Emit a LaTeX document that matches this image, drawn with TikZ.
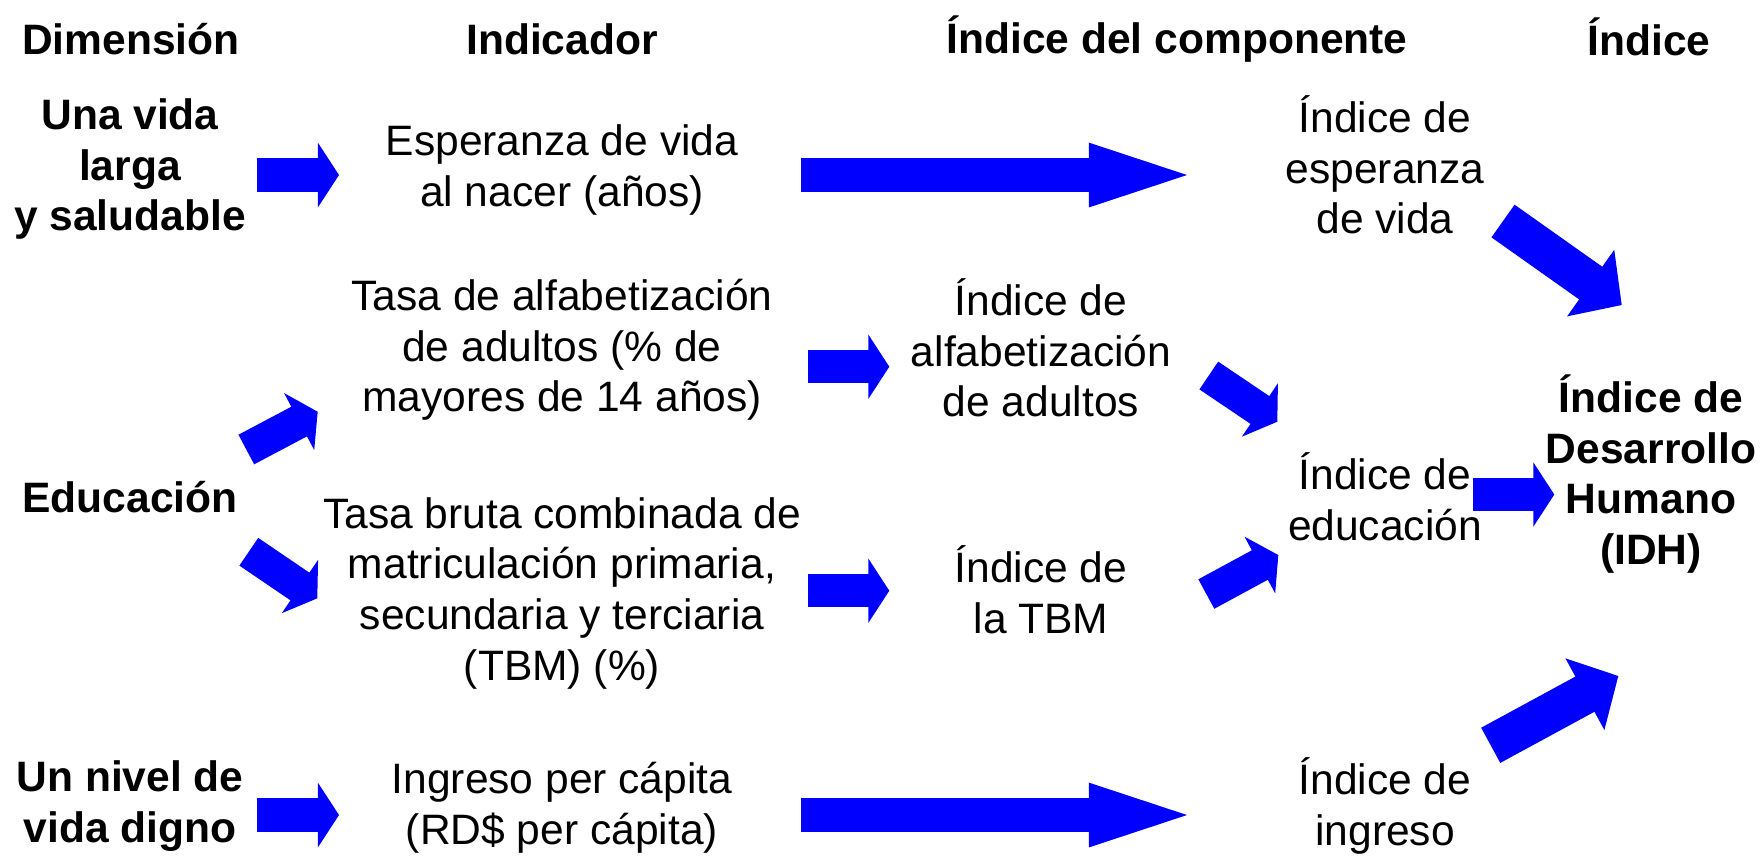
\documentclass[tikz,border=0pt]{standalone}
\usepackage{fontspec}
\setmainfont{Liberation Sans}
\usetikzlibrary{arrows.meta}

\begin{document}
\begin{tikzpicture}[x=0.01cm,y=-0.01cm,
    every node/.style={align=center,inner sep=0pt,font=\fontsize{12.1}{14.4}\selectfont},
    head/.style={font=\fontsize{12.1}{14.4}\selectfont\bfseries},
    flecha/.style={blue,line width=0.335cm,-{Triangle[length=0.21cm,width=0.64cm,line width=0.8pt]}},
    flechalarga/.style={blue,line width=0.335cm,-{Triangle[length=0.98cm,width=0.64cm,line width=0.8pt]}},
    flechagrande/.style={blue,line width=0.40cm,-{Triangle[length=0.38cm,width=0.81cm,line width=0.8pt]}}]
    \useasboundingbox (0,0) rectangle (1761,856);

    % encabezados
    \node[head] (hdim)  at (130.8,39) {Dimensión};
    \node[head] (hind)  at (562,39)   {Indicador};
    \node[head] (hcomp) at (1177,39)  {Índice del componente};
    \node[head] (hidx)  at (1649,37)  {Índice};

    % dimensiones
    \node[head] (vida)  at (130,169)   {Una vida\\larga\\y saludable};
    \node[head] (educ)  at (130,497.5) {Educación};
    \node[head] (nivel) at (130,806)   {Un nivel de\\vida digno};

    % indicadores
    \node (esper) at (562,170)   {Esperanza de vida\\al nacer (años)};
    \node (alfab) at (562,350) {Tasa de alfabetización\\de adultos (\% de\\mayores de 14 años)};
    \node (tbm)   at (562,593)   {Tasa bruta combinada de\\matriculación primaria,\\secundaria y terciaria\\(TBM) (\%)};
    \node (ingr)  at (562,808)   {Ingreso per cápita\\(RD\$ per cápita)};

    % indices de componente
    \node (ialfab) at (1041,348)  {Índice de\\alfabetización\\de adultos};
    \node (itbm)   at (1041,590)  {Índice de\\la TBM};
    \node (iesper) at (1385,165) {Índice de\\esperanza\\de vida};
    \node (ieduc)  at (1385,497)  {Índice de\\educación};
    \node (iingr)  at (1385,806)  {Índice de\\ingreso};

    \node[head] (idh) at (1651,474) {Índice de\\Desarrollo\\Humano\\(IDH)};

    % extremos de las flechas
    \coordinate (vida-o)   at (256.7,175);
    \coordinate (esper-i)  at (339,175);
    \coordinate (esper-o)  at (801,175);
    \coordinate (iesper-i) at (1187,175);
    \coordinate (educ-o1)  at (246.3,449.5);
    \coordinate (alfab-i)  at (317.7,411.7);
    \coordinate (educ-o2)  at (248.8,551.7);
    \coordinate (tbm-i)    at (317.3,598.3);
    \coordinate (alfab-o)  at (808.3,366.7);
    \coordinate (ialfab-i) at (889.3,366.7);
    \coordinate (tbm-o)    at (808.3,590.7);
    \coordinate (itbm-i)   at (889.3,590.7);
    \coordinate (nivel-o)  at (256.7,815);
    \coordinate (ingr-i)   at (339,815);
    \coordinate (ingr-o)   at (801,815);
    \coordinate (iingr-i)  at (1187,815);
    \coordinate (ialfab-o) at (1208.8,375.5);
    \coordinate (ieduc-i1) at (1277.3,421.7);
    \coordinate (itbm-o)   at (1206.3,594);
    \coordinate (ieduc-i2) at (1278.3,555);
    \coordinate (iesper-o) at (1503,221);
    \coordinate (idh-i1)   at (1621.7,305);
    \coordinate (ieduc-o)  at (1472.7,494.5);
    \coordinate (idh-i2)   at (1554.3,494.5);
    \coordinate (iingr-o)  at (1490.7,745.3);
    \coordinate (idh-i3)   at (1618.3,676);

    \draw[flecha] (vida-o) -- (esper-i);
    \draw[flechalarga] (esper-o) -- (iesper-i);
    \draw[flecha] (educ-o1) -- (alfab-i);
    \draw[flecha] (educ-o2) -- (tbm-i);
    \draw[flecha] (alfab-o) -- (ialfab-i);
    \draw[flecha] (tbm-o) -- (itbm-i);
    \draw[flecha] (nivel-o) -- (ingr-i);
    \draw[flechalarga] (ingr-o) -- (iingr-i);
    \draw[flecha] (ialfab-o) -- (ieduc-i1);
    \draw[flecha] (itbm-o) -- (ieduc-i2);
    \draw[flechagrande] (iesper-o) -- (idh-i1);
    \draw[flecha] (ieduc-o) -- (idh-i2);
    \draw[flechagrande] (iingr-o) -- (idh-i3);
\end{tikzpicture}
\end{document}
